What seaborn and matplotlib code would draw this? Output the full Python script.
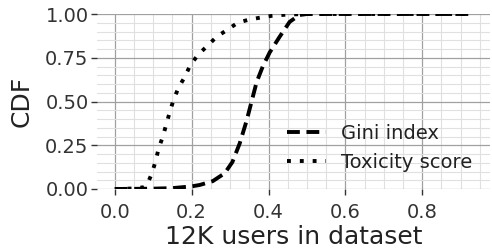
import matplotlib
matplotlib.use("Agg")
import matplotlib.pyplot as plt
import seaborn as sns
import pandas as pd
from matplotlib.ticker import MultipleLocator

# CDF curves
gini_x = [0.0, 0.10, 0.15, 0.20, 0.221, 0.255, 0.286, 0.306, 0.325, 0.343, 0.356,
          0.369, 0.385, 0.403, 0.429, 0.455, 0.48, 0.50, 0.93]
gini_y = [0.0, 0.002, 0.005, 0.015, 0.023, 0.045, 0.09, 0.154, 0.26, 0.39, 0.50,
          0.61, 0.70, 0.78, 0.87, 0.955, 0.994, 1.0, 1.0]

tox_x = [0.0, 0.05, 0.075, 0.083, 0.096, 0.105, 0.114, 0.125, 0.135, 0.143, 0.153,
         0.166, 0.182, 0.197, 0.218, 0.242, 0.265, 0.293, 0.32, 0.346, 0.38, 0.41,
         0.45, 0.50, 0.93]
tox_y = [0.0, 0.003, 0.01, 0.02, 0.086, 0.15, 0.23, 0.30, 0.377, 0.44, 0.51,
         0.58, 0.64, 0.71, 0.77, 0.82, 0.87, 0.91, 0.95, 0.966, 0.98, 0.99,
         0.997, 1.0, 1.0]

series = ["Gini index", "Toxicity score"]

df = pd.concat([
    pd.DataFrame({"x": gini_x, "y": gini_y, "metric": series[0]}),
    pd.DataFrame({"x": tox_x, "y": tox_y, "metric": series[1]}),
])

sns.set_theme(style="whitegrid")
plt.rcParams["font.family"] = ["DejaVu Sans"]

fig, ax = plt.subplots(figsize=(4.92, 2.5), dpi=100)
fig.subplots_adjust(left=0.197, right=0.996, top=0.944, bottom=0.244)

sns.lineplot(data=df, x="x", y="y", style="metric", color="black", lw=2.8,
             dashes={series[0]: (3.3, 1.7), series[1]: (1, 2.3)},
             estimator=None, sort=False, ax=ax)

ax.set_ylim(0, 1)
ax.xaxis.set_major_locator(MultipleLocator(0.2))
ax.xaxis.set_minor_locator(MultipleLocator(0.05))
ax.yaxis.set_major_locator(MultipleLocator(0.25))
ax.yaxis.set_minor_locator(MultipleLocator(0.05))
ax.yaxis.set_major_formatter(matplotlib.ticker.FormatStrFormatter("%.2f"))
ax.xaxis.set_major_formatter(matplotlib.ticker.FormatStrFormatter("%.1f"))

ax.grid(which="major", color="#a0a0a0", lw=0.9)
ax.grid(which="minor", color="#e0e0e0", lw=0.8)
ax.set_axisbelow(True)
for s in ax.spines.values():
    s.set_visible(False)

ax.tick_params(which="major", length=4, width=1, color="#333333",
               labelsize=14, labelcolor="#333333", pad=2,
               bottom=True, left=True)
ax.tick_params(axis="x", which="major", pad=6)
ax.tick_params(which="minor", length=0)

ax.set_xlabel("12K users in dataset", fontsize=18, color="#222222", labelpad=2)
ax.set_ylabel("CDF", fontsize=18, color="#222222", labelpad=8)

ax.legend(title=None, frameon=False, fontsize=14, handlelength=2.0,
          handletextpad=0.8, loc="lower right", labelcolor="#222222")

fig.savefig("out.png", dpi=100)
